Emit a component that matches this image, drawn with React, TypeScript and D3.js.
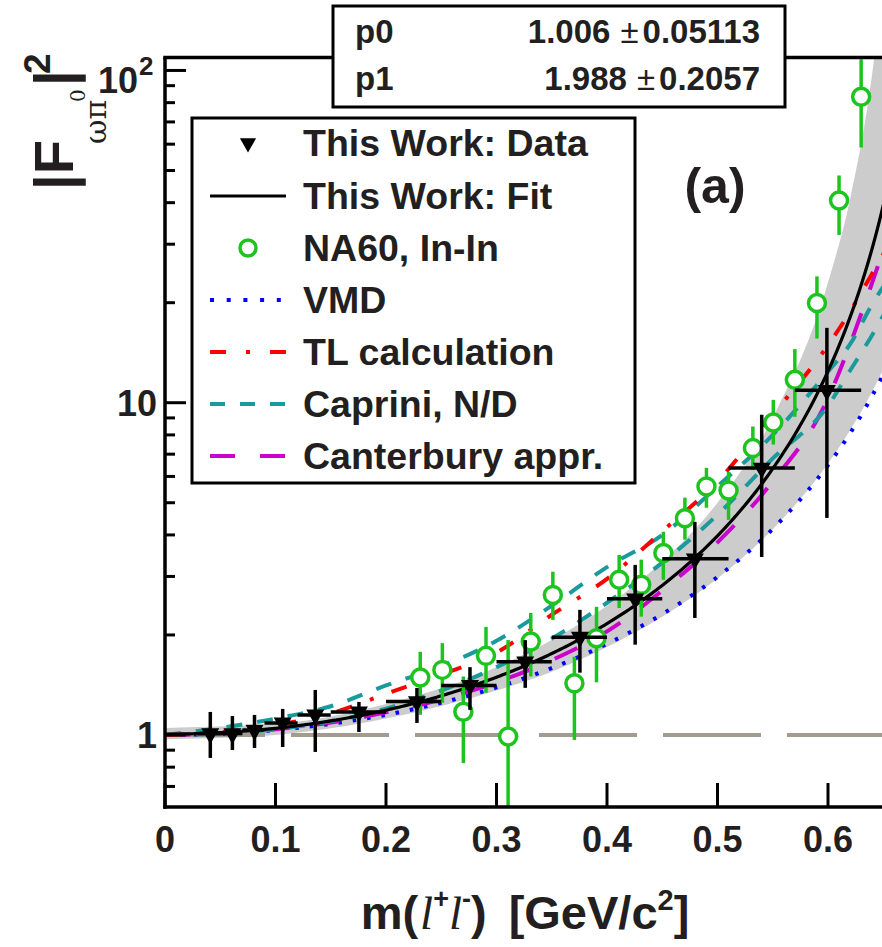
import React from "react";
import * as d3 from "d3";

// ---- fit parameters (stat box) ----
const P0 = 1.006;
const P0_ERR = 0.05113;
const P1 = 1.988;
const P1_ERR = 0.2057;

// ---- This Work: data (mass, bin edges, |F|^2 and error range) ----
const thisWorkM = [0.041, 0.061, 0.081, 0.1065, 0.136, 0.1755, 0.228, 0.276, 0.326, 0.3755, 0.4255, 0.4795, 0.54, 0.599];
const thisWorkMLo = [0.03, 0.05, 0.07, 0.09, 0.12, 0.15, 0.2, 0.25, 0.3, 0.35, 0.4, 0.45, 0.51, 0.57];
const thisWorkMHi = [0.05, 0.07, 0.09, 0.12, 0.15, 0.2, 0.25, 0.3, 0.35, 0.4, 0.45, 0.51, 0.57, 0.63];
const thisWorkF2 = [1.01, 1.01, 1.035, 1.087, 1.149, 1.173, 1.26, 1.41, 1.66, 1.97, 2.57, 3.39, 6.36, 10.9];
const thisWorkF2Lo = [0.853, 0.901, 0.914, 0.92, 0.889, 1.021, 1.087, 1.19, 1.386, 1.54, 1.87, 2.25, 3.43, 4.5];
const thisWorkF2Hi = [1.173, 1.14, 1.149, 1.198, 1.366, 1.257, 1.385, 1.6, 1.93, 2.38, 3.25, 4.38, 9.2, 16.8];

// ---- NA60, In-In ----
const na60M = [0.231, 0.251, 0.27, 0.2905, 0.3105, 0.331, 0.351, 0.3705, 0.3905, 0.411, 0.431, 0.451, 0.4705, 0.49, 0.51, 0.532, 0.5505, 0.57, 0.59, 0.61, 0.63];
const na60F2 = [1.49, 1.57, 1.175, 1.73, 0.99, 1.91, 2.64, 1.43, 1.955, 2.93, 2.83, 3.53, 4.49, 5.6, 5.44, 7.3, 8.72, 11.73, 19.95, 40.6, 83.3];
const na60F2Lo = [1.15, 1.25, 0.823, 1.339, 0.45, 1.5, 2.22, 0.966, 1.44, 2.41, 2.27, 2.93, 3.87, 4.83, 4.44, 6.28, 7.48, 9.07, 15.6, 32.0, 58.6];
const na60F2Hi = [1.78, 1.89, 1.5, 2.115, 1.93, 2.33, 3.1, 1.72, 2.43, 3.48, 3.37, 4.09, 5.18, 6.37, 6.19, 8.48, 10.2, 14.5, 24.0, 48.3, 108];

// ---- theory curves, sampled on a common mass grid ----
const theoryM = [0, 0.05, 0.1, 0.15, 0.2, 0.25, 0.3, 0.35, 0.4, 0.45, 0.5, 0.55, 0.6, 0.62, 0.64, 0.66];
const vmdF2 = [1.0, 1.008, 1.035, 1.08, 1.15, 1.25, 1.39, 1.59, 1.88, 2.31, 2.99, 4.17, 6.49, 8.09, 10.5, 14.2];
const tlF2 = [1.0, 1.02, 1.07, 1.16, 1.33, 1.52, 1.77, 2.3, 2.95, 4.1, 5.8, 9.2, 14.9, 18.8, 24.5, 32];
const capriniHiF2 = [1.0, 1.05, 1.12, 1.22, 1.41, 1.61, 1.92, 2.45, 3.2, 4.0, 5.6, 8.0, 12.4, 15.0, 19.8, 25];
const capriniLoF2 = [1.0, 1.01, 1.04, 1.1, 1.2, 1.36, 1.6, 1.95, 2.5, 3.3, 4.6, 6.8, 9.8, 12.5, 16.0, 21];
const canterburyF2 = [1.0, 1.01, 1.04, 1.09, 1.17, 1.28, 1.44, 1.68, 2.05, 2.72, 3.8, 5.8, 10.3, 15.0, 23.0, 36];

// ---- fit uncertainty band ----
const bandM = [0, 0.1, 0.2, 0.3, 0.35, 0.4, 0.45, 0.5, 0.55, 0.6, 0.62, 0.64, 0.65, 0.66];
const bandLo = [0.97, 1.0, 1.12, 1.36, 1.55, 1.84, 2.27, 2.96, 4.16, 6.56, 8.26, 10.8, 12.6, 14.9];
const bandHi = [1.05, 1.08, 1.24, 1.6, 1.93, 2.45, 3.33, 5.0, 9.0, 23, 41, 98, 188, 500];

// ---- axis ticks ----
const xTicks = [0, 0.1, 0.2, 0.3, 0.4, 0.5, 0.6];
const xTickLabels = ["0", "0.1", "0.2", "0.3", "0.4", "0.5", "0.6"];
const yMajorTicks = [1, 10, 100];

// ---- legend entries ----
const legendLabels = [
  "This Work: Data",
  "This Work: Fit",
  "NA60, In-In",
  "VMD",
  "TL calculation",
  "Caprini, N/D",
  "Canterbury appr.",
];

const FONT = "'Liberation Sans', Arial, Helvetica, sans-serif";
const GREEN = "#1ec41e";
const TEAL = "#1a9a9c";
const MAGENTA = "#cc00cc";

// plot frame
const LEFT = 165;
const RIGHT = 884;
const TOP = 57.5;
const BOTTOM = 807;

export default function App() {
  const x = d3.scaleLinear().domain([0, 0.65]).range([LEFT, LEFT + 0.65 * 1105]);
  const y = d3.scaleLog().domain([0.607, 109.4]).range([BOTTOM, TOP]);

  const fitFn = (m: number) => P0 / Math.pow(1 - P1 * m * m, 2);
  const fitGrid = d3.range(0, 0.6601, 0.0025);

  const line = d3
    .line<[number, number]>()
    .x((d) => x(d[0]))
    .y((d) => y(Math.max(d[1], 0.3)))
    .curve(d3.curveMonotoneX);

  const pairs = (ms: number[], vs: number[]) => ms.map((m, i) => [m, vs[i]] as [number, number]);

  const bandArea = d3
    .area<number>()
    .x((_, i) => x(bandM[i]))
    .y0((_, i) => y(bandLo[i]))
    .y1((_, i) => y(bandHi[i]))
    .curve(d3.curveMonotoneX);

  const yMinor = y.ticks().filter((t) => !yMajorTicks.includes(t));

  const tri = (cx: number, cy: number, s = 1) => {
    const w = 9 * s;
    const h = 16 * s;
    return `M${cx - w},${cy - h / 3}L${cx + w},${cy - h / 3}L${cx},${cy + (2 * h) / 3}Z`;
  };

  // legend geometry
  const legRowY = [143, 196, 248, 300, 352, 404, 456];
  const legX0 = 210;
  const legX1 = 286;

  return (
    <svg width={882} height={947} style={{ display: "block", position: "absolute", left: 0, top: 0 }} fontFamily={FONT}>
      <rect x={0} y={0} width={882} height={947} fill="#fff" />
      <defs>
        <clipPath id="frame">
          <rect x={LEFT} y={TOP} width={RIGHT - LEFT} height={BOTTOM - TOP} />
        </clipPath>
      </defs>

      <g clipPath="url(#frame)">
        {/* fit uncertainty band */}
        <path d={bandArea(bandM) || ""} fill="#cccccc" />

        {/* |F|^2 = 1 reference */}
        <line
          x1={LEFT}
          x2={RIGHT}
          y1={y(1)}
          y2={y(1)}
          stroke="#a39a90"
          strokeWidth={4}
          strokeDasharray="98 26"
          strokeDashoffset={-2}
        />

        {/* theory curves */}
        <path d={line(pairs(theoryM, vmdF2)) || ""} fill="none" stroke="#0000ff" strokeWidth={4} strokeDasharray="3.5 11" />
        <path d={line(pairs(theoryM, canterburyF2)) || ""} fill="none" stroke={MAGENTA} strokeWidth={4} strokeDasharray="25 25" />
        <path d={line(pairs(theoryM, capriniLoF2)) || ""} fill="none" stroke={TEAL} strokeWidth={4} strokeDasharray="16 15" />
        <path d={line(pairs(theoryM, capriniHiF2)) || ""} fill="none" stroke={TEAL} strokeWidth={4} strokeDasharray="16 15" />
        <path d={line(pairs(theoryM, tlF2)) || ""} fill="none" stroke="#ff0000" strokeWidth={4} strokeDasharray="16 19 4 19" />

        {/* fit */}
        <path
          d={line(fitGrid.map((m) => [m, fitFn(m)] as [number, number])) || ""}
          fill="none"
          stroke="#000"
          strokeWidth={3.2}
        />

        {/* NA60 points */}
        {na60M.map((m, i) => (
          <g key={`na${i}`}>
            <line x1={x(m)} x2={x(m)} y1={y(na60F2Lo[i])} y2={y(na60F2Hi[i])} stroke={GREEN} strokeWidth={3.5} />
            <circle cx={x(m)} cy={y(na60F2[i])} r={8.5} fill="#fff" stroke={GREEN} strokeWidth={3.5} />
          </g>
        ))}

        {/* This Work data */}
        {thisWorkM.map((m, i) => (
          <g key={`tw${i}`}>
            <line x1={x(m)} x2={x(m)} y1={y(thisWorkF2Lo[i])} y2={y(thisWorkF2Hi[i])} stroke="#000" strokeWidth={3.5} />
            <line
              x1={x(thisWorkMLo[i])}
              x2={x(thisWorkMHi[i])}
              y1={y(thisWorkF2[i])}
              y2={y(thisWorkF2[i])}
              stroke="#000"
              strokeWidth={3.5}
            />
            <path d={tri(x(m), y(thisWorkF2[i]))} fill="#000" />
          </g>
        ))}
      </g>

      {/* frame */}
      <line x1={LEFT} x2={LEFT} y1={TOP} y2={BOTTOM + 1.75} stroke="#000" strokeWidth={3.5} />
      <line x1={LEFT - 1.75} x2={RIGHT} y1={BOTTOM} y2={BOTTOM} stroke="#000" strokeWidth={3.5} />
      <line x1={LEFT - 1.75} x2={RIGHT} y1={TOP} y2={TOP} stroke="#000" strokeWidth={3.5} />

      {/* y ticks */}
      {yMajorTicks.map((t) => (
        <line key={`ymj${t}`} x1={LEFT} x2={LEFT + 21} y1={y(t)} y2={y(t)} stroke="#000" strokeWidth={3} />
      ))}
      {yMinor.map((t) => (
        <line key={`ymn${t}`} x1={LEFT} x2={LEFT + 10} y1={y(t)} y2={y(t)} stroke="#000" strokeWidth={3} />
      ))}

      {/* x ticks */}
      {xTicks.map((t) => (
        <line key={`xt${t}`} x1={x(t)} x2={x(t)} y1={BOTTOM} y2={BOTTOM - 24} stroke="#000" strokeWidth={3} />
      ))}
      {xTicks.map((t, i) => (
        <text key={`xl${t}`} x={x(t)} y={852} textAnchor="middle" fontSize={36} fontWeight="bold" fill="#231f20">
          {xTickLabels[i]}
        </text>
      ))}

      {/* y tick labels */}
      <text x={157} y={y(1) + 13} textAnchor="end" fontSize={36} fontWeight="bold" fill="#231f20">1</text>
      <text x={157} y={y(10) + 13} textAnchor="end" fontSize={36} fontWeight="bold" fill="#231f20">10</text>
      <text x={138} y={93} textAnchor="end" fontSize={36} fontWeight="bold" fill="#231f20">10</text>
      <text x={139} y={75} fontSize={26} fontWeight="bold" fill="#231f20">2</text>

      {/* x axis title */}
      <text x={525} y={929} textAnchor="middle" fontSize={47} fontWeight="bold" fill="#231f20">
        m(
        <tspan fontFamily="'Liberation Serif', serif" fontStyle="italic" fontWeight="normal" dx={2}>l</tspan>
        <tspan fontSize={27} dy={-21}>+</tspan>
        <tspan fontFamily="'Liberation Serif', serif" fontStyle="italic" fontWeight="normal" dy={21}>l</tspan>
        <tspan fontSize={27} dy={-21}>-</tspan>
        <tspan dy={21}>)</tspan>
        <tspan dx={22}>[GeV/c</tspan>
        <tspan fontSize={29} dy={-19}>2</tspan>
        <tspan dy={19}>]</tspan>
      </text>

      {/* y axis title, rotated */}
      <g transform="translate(73,0) rotate(-90)" fill="#231f20">
        <text x={-190} y={0} fontSize={56} fontWeight="bold">|F</text>
        <text x={-144} y={33} fontSize={30} fontFamily="'DejaVu Serif', serif">ωπ</text>
        <text x={-102} y={12} fontSize={20} fontFamily="'DejaVu Serif', serif">0</text>
        <text x={-86} y={0} fontSize={56} fontWeight="bold">|</text>
        <text x={-74} y={-23} fontSize={37} fontWeight="bold">2</text>
      </g>

      {/* panel tag */}
      <text x={715} y={203} textAnchor="middle" fontSize={50} fontWeight="bold" fill="#231f20">(a)</text>

      {/* legend */}
      <rect x={192} y={118} width={443} height={365} fill="#fff" stroke="#000" strokeWidth={3} />
      <path d={tri(248, legRowY[0], 0.9)} fill="#000" />
      <line x1={legX0} x2={legX1} y1={legRowY[1]} y2={legRowY[1]} stroke="#000" strokeWidth={3} />
      <circle cx={248} cy={legRowY[2]} r={8} fill="#fff" stroke={GREEN} strokeWidth={3.5} />
      <line x1={legX0} x2={legX1} y1={legRowY[3]} y2={legRowY[3]} stroke="#0000ff" strokeWidth={4} strokeDasharray="4 12.7" />
      <line x1={legX0} x2={legX1} y1={legRowY[4]} y2={legRowY[4]} stroke="#ff0000" strokeWidth={4} strokeDasharray="16 20 4 20" />
      <line x1={legX0} x2={legX1} y1={legRowY[5]} y2={legRowY[5]} stroke={TEAL} strokeWidth={4} strokeDasharray="15 15" />
      <line x1={legX0} x2={legX1} y1={legRowY[6]} y2={legRowY[6]} stroke={MAGENTA} strokeWidth={4} strokeDasharray="25 25" />
      {legendLabels.map((s, i) => (
        <text key={s} x={303} y={legRowY[i] + 13} fontSize={37.5} fontWeight="bold" fill="#231f20">
          {s}
        </text>
      ))}

      {/* fit parameter box */}
      <rect x={333} y={6} width={452} height={101} fill="#fff" stroke="#000" strokeWidth={3} />
      <text x={355} y={43} fontSize={33} fontWeight="bold" fill="#231f20">p0</text>
      <text x={355} y={90} fontSize={33} fontWeight="bold" fill="#231f20">p1</text>
      <text x={760} y={43} textAnchor="end" fontSize={33} fontWeight="bold" fill="#231f20">
        {P0.toFixed(3)}
        <tspan fontWeight="normal" dx={10}>{"\u00B1"}</tspan>
        <tspan dx={4}>{`${P0_ERR}`}</tspan>
      </text>
      <text x={760} y={90} textAnchor="end" fontSize={33} fontWeight="bold" fill="#231f20">
        {P1.toFixed(3)}
        <tspan fontWeight="normal" dx={10}>{"\u00B1"}</tspan>
        <tspan dx={4}>{`${P1_ERR}`}</tspan>
      </text>
    </svg>
  );
}
